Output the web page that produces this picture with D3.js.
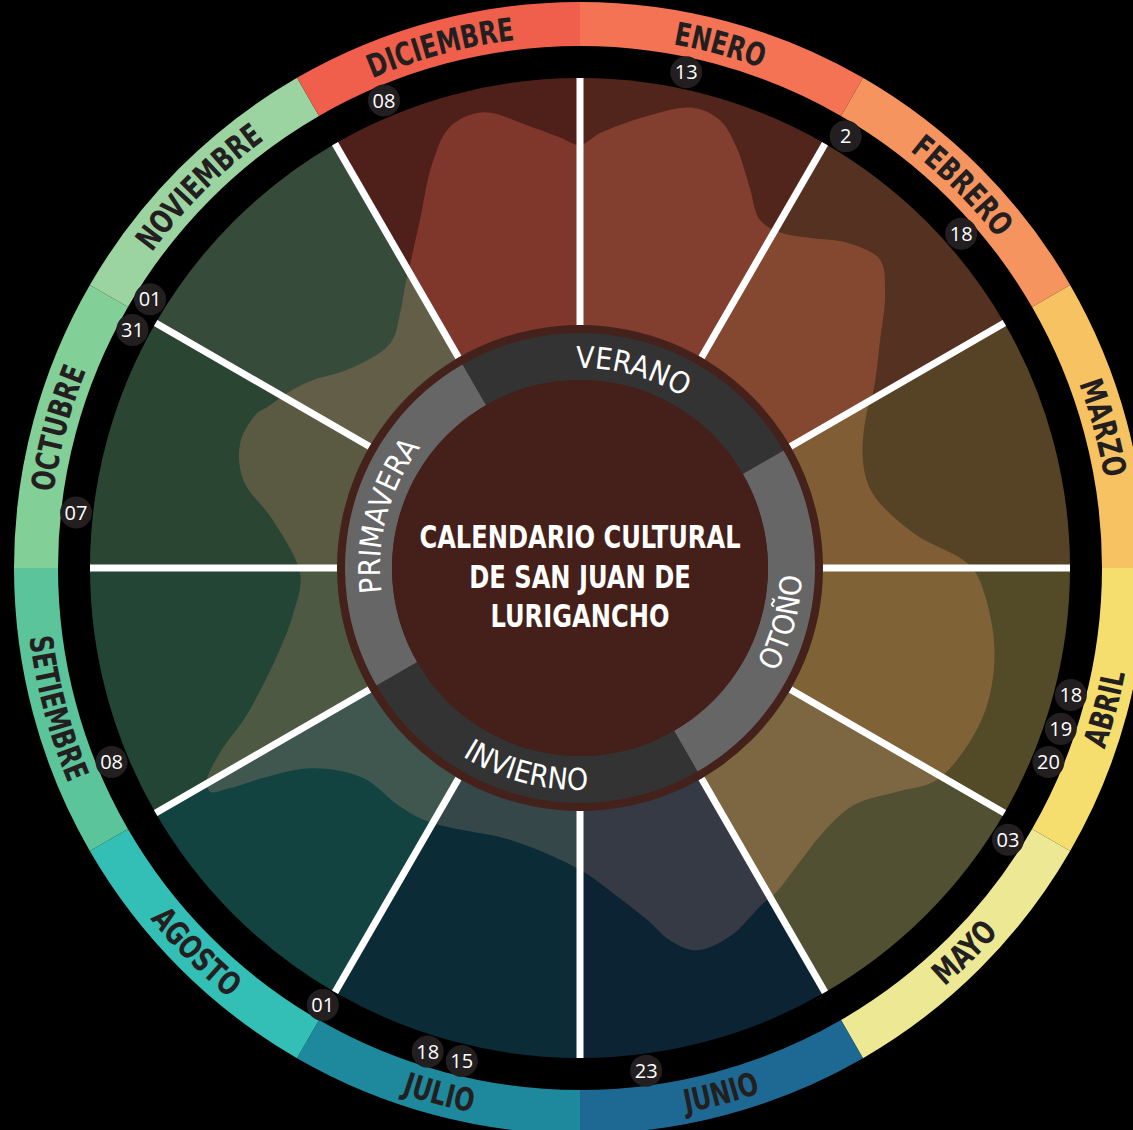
<!DOCTYPE html>
<html lang="es">
  <head>
    <meta charset="utf-8">
    <title>Calendario cultural</title>
    <script src="https://cdn.jsdelivr.net/npm/d3@7/dist/d3.min.js"></script>
    <style>
      html, body { margin: 0; padding: 0; background: #000; }
      svg { display: block; }
    </style>
  </head>
  <body>
    <div id='chart'></div>

    <script type='text/javascript'>
      // meses y colores
      const meses = ['ENERO','FEBRERO','MARZO','ABRIL','MAYO','JUNIO','JULIO','AGOSTO','SETIEMBRE','OCTUBRE','NOVIEMBRE','DICIEMBRE']
      const diasMes = [31,28,31,30,31,30,31,31,30,31,30,31]
      const colorBanda = ['#f37354','#f69460','#f6c262','#f5de6d','#ece893','#1e6994','#1e889d','#33bfb5','#5bc49a','#83cf98','#9bd4a0','#f05f4b']
      const colorFondo = ['#52251c','#543121','#564325','#534b27','#525033','#0b2333','#0b2c36','#124340','#224535','#2b4533','#374b3a','#4f1f1a']
      const colorMancha = ['#823e2f','#844730','#815d35','#7f6236','#7d6642','#363a45','#36474a','#3f574f','#4e5944','#5a5a43','#635e47','#7f362b']

      // fechas marcadas (mes 0 = enero)
      const eventoMes = [0,1,1,3,3,3,4,5,6,6,7,8,9,9,10,11]
      const eventoDia = ['13','2','18','18','19','20','03','23','15','18','01','08','07','31','01','08']

      // estaciones
      const estaciones = ['VERANO','OTOÑO','INVIERNO','PRIMAVERA']
      const estacionInicio = [-1,2,5,8]
      const estacionColor = ['#333333','#666666','#333333','#666666']

      const titulo = ['CALENDARIO CULTURAL','DE SAN JUAN DE','LURIGANCHO']

      // perfil de la mancha: posicion (en meses) y valor (0-100)
      const manchaPos = [0.000,0.087,0.293,0.460,0.580,0.680,0.800,0.910,1.033,1.167,1.313,1.473,1.597,1.770,1.973,
        2.053,2.303,2.520,2.800,2.960,3.033,3.293,3.513,3.700,3.927,4.040,4.173,4.363,4.580,4.793,4.957,
        5.047,5.263,5.433,5.547,5.640,5.807,6.000,6.460,6.907,7.087,7.257,7.530,7.773,7.883,7.927,7.960,
        8.007,8.097,8.207,8.500,8.690,8.953,9.297,9.487,9.673,9.853,9.907,10.060,10.173,10.347,10.660,10.827,
        10.937,11.030,11.177,11.333,11.453,11.600,11.797,11.910]
      const manchaValor = [86.3,88.8,93.5,96.7,95.7,91.6,85.1,80.0,79.8,82.2,85.9,87.8,83.9,76.5,69.6,
        66.5,61.8,61.6,68.4,78.2,81.0,85.3,87.3,87.6,86.1,84.3,79.2,73.9,73.3,75.1,77.3,
        78.0,81.2,81.6,78.2,73.1,66.7,61.6,57.3,59.4,60.6,61.0,61.6,68.2,77.6,84.3,88.2,
        87.8,82.4,74.3,63.3,59.4,57.1,63.5,71.0,73.9,73.1,71.8,69.0,66.6,62.4,60.0,63.7,
        67.6,71.2,78.2,88.0,93.9,95.1,90.4,88.0]

      const width = 1133, height = 1130
      const cx = 580, cy = 568
      const rCuña = 490, rBandaIn = 522, rBandaOut = 566
      const rDia = 507
      const rBorde = 243, rEstOut = 235, rEstIn = 188
      const fuente = "'Liberation Sans Narrow', 'DejaVu Sans Condensed', sans-serif"
      const angosto = 0.83

      let svg = d3.select('#chart').append('svg')
        .attr('width', width)
        .attr('height', height)
      svg.append('rect').attr('width', width).attr('height', height).attr('fill', '#000')

      let canvas = svg.append('g').attr('transform', 'translate(' + cx + ',' + cy + ')')
      let defs = svg.append('defs')

      let angulo = d3.scaleLinear().domain([0, 12]).range([0, 2 * Math.PI])
      let radio = d3.scaleLinear().domain([0, 100]).range([0, rCuña])

      // camino de arco para texto; invertido si queda en la mitad de abajo
      function arcoTexto(r, a0, a1, invertir) {
        let p = d3.path()
        if (!invertir) {
          p.moveTo(r * Math.sin(a0), -r * Math.cos(a0))
          p.arc(0, 0, r, a0 - Math.PI / 2, a1 - Math.PI / 2, false)
        } else {
          p.moveTo(r * Math.sin(a1), -r * Math.cos(a1))
          p.arc(0, 0, r, a1 - Math.PI / 2, a0 - Math.PI / 2, true)
        }
        return p.toString()
      }
      function abajo(a) {
        let m = ((a % (2 * Math.PI)) + 2 * Math.PI) % (2 * Math.PI)
        return m > Math.PI / 2 && m < 3 * Math.PI / 2
      }
      // comprime el texto a lo ancho (la fuente original es mas angosta)
      function comprimir(sel, k) {
        sel.each(function () {
          let len = this.getComputedTextLength()
          d3.select(this).attr('textLength', len * k).attr('lengthAdjust', 'spacingAndGlyphs')
        })
      }

      // cuñas de los meses
      let arcoCuña = d3.arc().innerRadius(0).outerRadius(rCuña)
      let mesesData = meses.map((m, i) => ({ nombre: m, i: i, a0: angulo(i), a1: angulo(i + 1) }))

      mesesData.forEach(d => {
        defs.append('clipPath').attr('id', 'clip-' + d.i)
          .append('path')
          .attr('d', arcoCuña({ startAngle: d.a0, endAngle: d.a1 }))
      })

      canvas.selectAll('path.cuña')
        .data(mesesData)
        .enter()
        .append('path')
        .attr('class', 'cuña')
        .attr('d', d => arcoCuña({ startAngle: d.a0, endAngle: d.a1 }))
        .attr('fill', d => colorFondo[d.i])

      let mancha = d3.lineRadial()
        .angle(d => angulo(d[0]))
        .radius(d => radio(d[1]))
        .curve(d3.curveCatmullRomClosed.alpha(0.5))
      let manchaData = manchaPos.map((p, i) => [p, manchaValor[i]])

      canvas.selectAll('path.mancha')
        .data(mesesData)
        .enter()
        .append('path')
        .attr('class', 'mancha')
        .attr('d', mancha(manchaData))
        .attr('clip-path', d => 'url(#clip-' + d.i + ')')
        .attr('fill', d => colorMancha[d.i])

      // lineas divisorias
      canvas.selectAll('line.div')
        .data(d3.range(12))
        .enter()
        .append('line')
        .attr('class', 'div')
        .attr('x1', i => rBorde * Math.sin(angulo(i)))
        .attr('y1', i => -rBorde * Math.cos(angulo(i)))
        .attr('x2', i => rCuña * Math.sin(angulo(i)))
        .attr('y2', i => -rCuña * Math.cos(angulo(i)))
        .attr('stroke', '#fff')
        .attr('stroke-width', 7)

      // banda exterior con los meses
      let arcoBanda = d3.arc().innerRadius(rBandaIn).outerRadius(rBandaOut)
      canvas.selectAll('path.banda')
        .data(mesesData)
        .enter()
        .append('path')
        .attr('class', 'banda')
        .attr('d', d => arcoBanda({ startAngle: d.a0, endAngle: d.a1 }))
        .attr('fill', d => colorBanda[d.i])

      mesesData.forEach(d => {
        let inv = abajo((d.a0 + d.a1) / 2)
        let r = inv ? 555 : 532
        defs.append('path').attr('id', 'tmes-' + d.i).attr('d', arcoTexto(r, d.a0, d.a1, inv))
      })
      canvas.selectAll('text.mes')
        .data(mesesData)
        .enter()
        .append('text')
        .attr('class', 'mes')
        .attr('font-family', fuente)
        .attr('font-weight', 'bold')
        .attr('font-size', '32px')
        .attr('fill', '#231f20')
        .append('textPath')
        .attr('href', d => '#tmes-' + d.i)
        .attr('startOffset', '50%')
        .attr('text-anchor', 'middle')
        .text(d => d.nombre)
        .call(comprimir, angosto)

      // circulos del centro
      canvas.append('circle').attr('r', rBorde).attr('fill', '#45211b')

      let arcoEst = d3.arc().innerRadius(rEstIn).outerRadius(rEstOut)
      let estData = estaciones.map((e, i) => ({
        nombre: e, i: i,
        a0: angulo(estacionInicio[i]), a1: angulo(estacionInicio[i] + 3)
      }))
      canvas.selectAll('path.est')
        .data(estData)
        .enter()
        .append('path')
        .attr('class', 'est')
        .attr('d', d => arcoEst({ startAngle: d.a0, endAngle: d.a1 }))
        .attr('fill', d => estacionColor[d.i])

      estData.forEach(d => {
        let inv = abajo((d.a0 + d.a1) / 2)
        let r = inv ? 222 : 200
        defs.append('path').attr('id', 'test-' + d.i).attr('d', arcoTexto(r, d.a0, d.a1, inv))
      })
      canvas.selectAll('text.est')
        .data(estData)
        .enter()
        .append('text')
        .attr('class', 'est')
        .attr('font-family', fuente)
        .attr('font-size', '30px')
        .attr('fill', '#fff')
        .append('textPath')
        .attr('href', d => '#test-' + d.i)
        .attr('startOffset', '50%')
        .attr('text-anchor', 'middle')
        .text(d => d.nombre)

      canvas.append('circle').attr('r', rEstIn).attr('fill', '#45201a')

      canvas.selectAll('text.titulo')
        .data(titulo)
        .enter()
        .append('text')
        .attr('class', 'titulo')
        .attr('x', 0)
        .attr('y', (d, i) => -20 + i * 39.5)
        .attr('text-anchor', 'middle')
        .attr('font-family', fuente)
        .attr('font-weight', 'bold')
        .attr('font-size', '32px')
        .attr('fill', '#fff')
        .text(d => d)
        .call(comprimir, 0.84)

      // fechas: posicion por dia y separacion si se juntan
      let sep = 4 * Math.PI / 180
      let fechas = eventoMes.map((m, i) => ({
        mes: m, dia: eventoDia[i],
        a: angulo(m + (+eventoDia[i] - 0.5) / diasMes[m])
      })).sort((a, b) => a.a - b.a)
      let grupos = []
      fechas.forEach(f => {
        let g = grupos[grupos.length - 1]
        if (g && f.a - g[g.length - 1].a < sep) g.push(f)
        else grupos.push([f])
      })
      grupos.forEach(g => {
        let mid = d3.mean(g, f => f.a)
        g.forEach((f, k) => { f.pos = mid + (k - (g.length - 1) / 2) * sep })
      })

      let marcas = canvas.selectAll('g.fecha')
        .data(fechas)
        .enter()
        .append('g')
        .attr('class', 'fecha')
        .attr('transform', d => 'translate(' + (rDia * Math.sin(d.pos)) + ',' + (-rDia * Math.cos(d.pos)) + ')')
      marcas.append('circle')
        .attr('r', 16)
        .attr('fill', '#231f20')
      marcas.append('text')
        .attr('text-anchor', 'middle')
        .attr('dy', '0.36em')
        .attr('font-family', "'Open Sans', sans-serif")
        .attr('font-size', '20px')
        .attr('fill', '#fff')
        .text(d => d.dia)
    </script>
  </body>
</html>
